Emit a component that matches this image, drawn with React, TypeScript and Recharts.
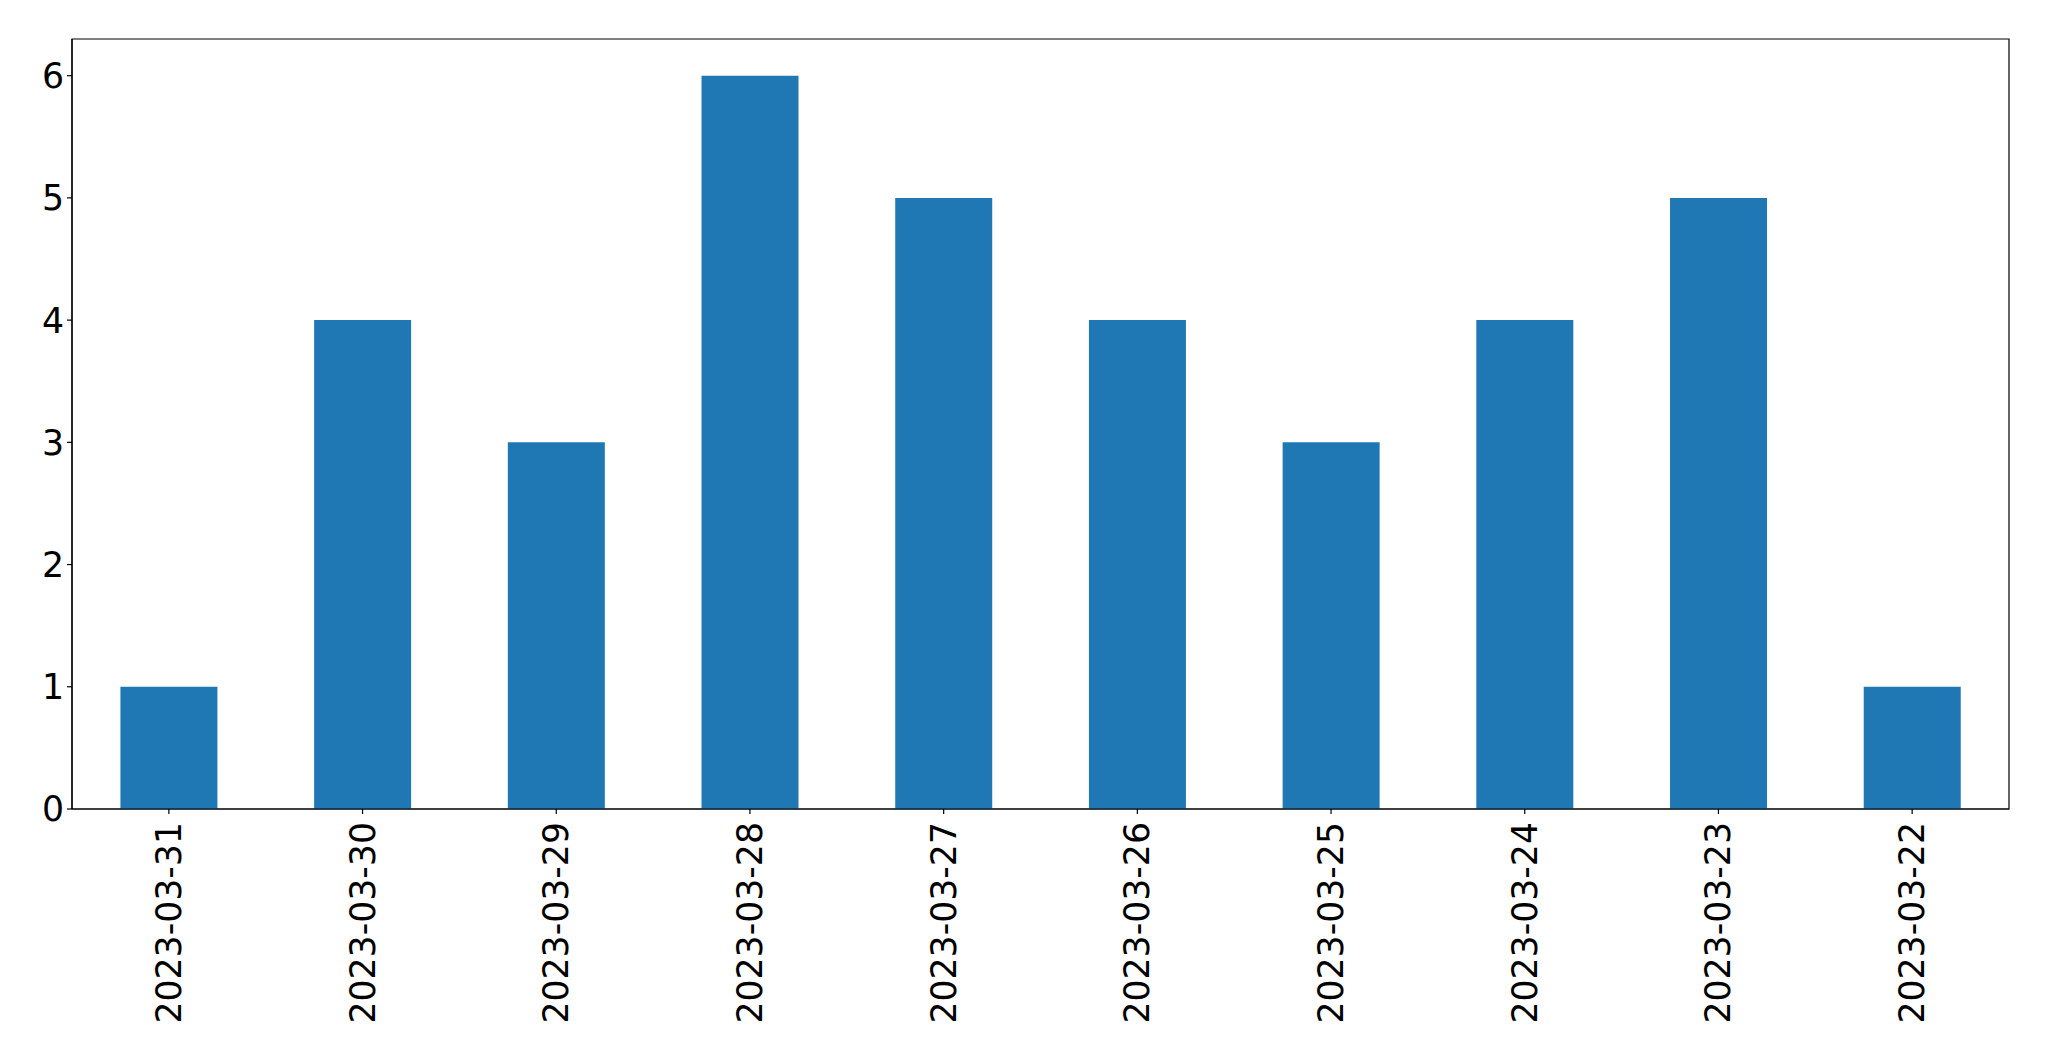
import React from 'react';
import { BarChart, Bar, XAxis, YAxis, ReferenceArea } from 'recharts';

document.body.style.margin = '0';

const dates = [
  '2023-03-31', '2023-03-30', '2023-03-29', '2023-03-28', '2023-03-27',
  '2023-03-26', '2023-03-25', '2023-03-24', '2023-03-23', '2023-03-22',
];
const counts = [1, 4, 3, 6, 5, 4, 3, 4, 5, 1];
const yTicks = [0, 1, 2, 3, 4, 5, 6];

const data = dates.map((d, i) => ({ date: d, count: counts[i] }));

const FONT = '"DejaVu Sans", sans-serif';
const FS = 34.7;

const XTick = (props: any) => {
  const { x, y, payload } = props;
  return (
    <text
      x={0}
      y={0}
      transform={`translate(${x},${y + 6}) rotate(-90)`}
      textAnchor="end"
      dominantBaseline="central"
      fontFamily={FONT}
      fontSize={FS}
      fill="#000"
    >
      {payload.value}
    </text>
  );
};

const YTick = (props: any) => {
  const { x, y, payload } = props;
  return (
    <text
      x={x - 1}
      y={y}
      dy="0.36em"
      textAnchor="end"
      fontFamily={FONT}
      fontSize={FS}
      fill="#000"
    >
      {payload.value}
    </text>
  );
};

export default function App() {
  return (
    <div style={{ width: 2049, height: 1061, background: '#fff' }}>
      <BarChart
        width={2049}
        height={1061}
        data={data}
        margin={{ top: 39, right: 40, bottom: 0, left: 0 }}
        barCategoryGap="25%"
      >
        <XAxis
          dataKey="date"
          height={252}
          interval={0}
          tick={<XTick />}
          tickSize={5}
          axisLine={{ stroke: '#000', strokeWidth: 1.2 }}
          tickLine={{ stroke: '#000', strokeWidth: 1.2 }}
        />
        <YAxis
          width={72}
          domain={[0, 6.3]}
          ticks={yTicks}
          interval={0}
          tick={<YTick />}
          tickSize={5}
          axisLine={{ stroke: '#000', strokeWidth: 1.2 }}
          tickLine={{ stroke: '#000', strokeWidth: 1.2 }}
        />
        <Bar dataKey="count" fill="#1f77b4" isAnimationActive={false} />
        <ReferenceArea
          y1={0}
          y2={6.3}
          fill="none"
          stroke="#000"
          strokeWidth={1.2}
          ifOverflow="visible"
        />
      </BarChart>
    </div>
  );
}
